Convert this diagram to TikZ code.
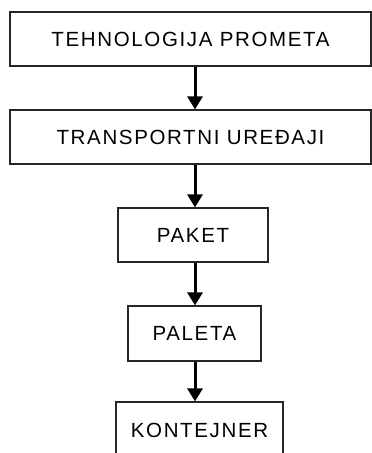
\documentclass[tikz,border=0pt]{standalone}
\usepackage{fontspec}
\setmainfont{Liberation Sans}[LetterSpace=8]
\usetikzlibrary{positioning, arrows.meta}
\tikzset{%
	blok/.style = {name = #1, draw = black!85, line width = 1.2pt, rectangle, inner sep = 0pt, font = \fontsize{20.5}{24}\selectfont},
	tok/.style = {line width = 3pt, -{Triangle[length = 13pt, width = 15pt]}}
}
\begin{document}
\begin{tikzpicture}[x=1pt, y=-1pt]
			\clip (0,0) rectangle (372,453);
			\useasboundingbox (0,0) rectangle (372,453);
			\coordinate (os) at (195,0);
			\node [blok = {tehn}, minimum width = 361pt, minimum height = 54pt] at (190.5,39) {TEHNOLOGIJA PROMETA};
			\node [blok = {trans}, minimum width = 361pt, minimum height = 54pt] at (190.5,137) {TRANSPORTNI UREĐAJI};
			\node [blok = {paket}, minimum width = 150pt, minimum height = 54pt] at (193,235) {PAKET};
			\node [blok = {paleta}, minimum width = 133pt, minimum height = 55pt] at (194.5,333.5) {PALETA};
			\node [blok = {kont}, minimum width = 167pt, minimum height = 56pt] at (199.5,430) {KONTEJNER};
			\path [tok] (tehn.south -| os) edge (trans.north -| os);
			\path [tok] (trans.south -| os) edge (paket.north -| os);
			\path [tok] (paket.south -| os) edge (paleta.north -| os);
			\path [tok] (paleta.south -| os) edge (kont.north -| os);
\end{tikzpicture}
\end{document}
